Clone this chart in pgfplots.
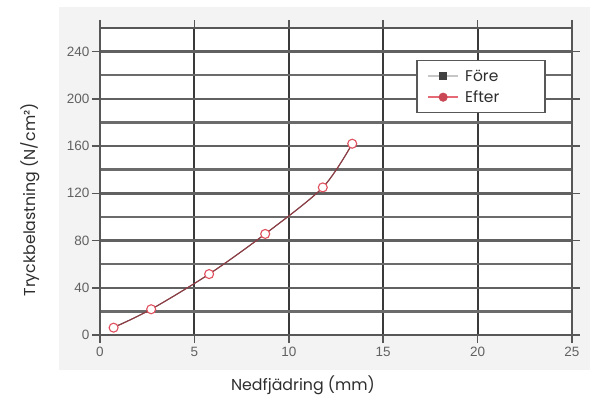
\documentclass[border=0pt]{standalone}
\usepackage{pgfplots}
\pgfplotsset{compat=1.18}
\usepackage{fontspec}
\setmainfont{Liberation Sans}
\newfontfamily\pop{Poppins}

\definecolor{panel}{HTML}{F3F3F3}
\definecolor{gridc}{HTML}{3A3A3A}
\definecolor{efter}{HTML}{E0505E}

\begin{document}
\begin{tikzpicture}
\path[use as bounding box] (-100pt,-78pt) rectangle (495pt,335pt);
\fill[panel] (-41pt,-35pt) rectangle (490pt,328pt);
\begin{axis}[
    at={(0pt,0pt)}, anchor=south west,
    scale only axis,
    width=472pt, height=307pt,
    xmin=0, xmax=25, ymin=0, ymax=260,
    xtick={0,5,...,25},
    ytick={0,40,...,240},
    minor ytick={20,60,...,260},
    grid=both,
    major x grid style={gridc, line width=2pt},
    major y grid style={gridc!80, line width=2.4pt},
    minor y grid style={gridc!75, line width=2.4pt},
    axis background/.style={fill=white},
    axis line style={gridc!85, line width=2pt},
    tick align=outside,
    major tick length=8pt,
    minor tick length=0pt,
    tick style={gridc!85, line width=1.5pt},
    ticklabel style={font=\fontsize{13.5}{15}\selectfont, text=black!62},
    /pgf/number format/assume math mode=true,
    xticklabel style={yshift=-1pt},
    yticklabel style={xshift=1pt},
    xlabel={Nedfjädring (mm)},
    ylabel={Tryckbelastning (N/cm²)},
    label style={font=\pop\fontsize{15.8}{18}\selectfont, text=black!82},
    xlabel style={at={(axis description cs:0.43,-0.163)}, anchor=center},
    ylabel style={at={(axis description cs:-0.148,0.44)}, anchor=center},
    legend style={at={(axis cs:16.75,233)}, anchor=north west,
        draw=gridc!85, line width=1.6pt, fill=white,
        font=\pop\fontsize{15.5}{18}\selectfont, text=black!82,
        inner xsep=2pt, inner ysep=5pt,
        nodes={inner sep=2pt, minimum height=21pt},
        /tikz/every even column/.append style={text width=76pt}},
    legend cell align=left,
    legend image code/.code={
        \path (0pt,0pt) (42pt,0pt);
        \draw[mark repeat=2, mark phase=2, #1] plot coordinates {(8pt,0pt) (23pt,0pt) (38pt,0pt)};
    },
]
\addplot[black!70, line width=1pt, smooth, mark=square*, mark size=2.5pt,
    mark options={black!80, solid},
    forget plot]
    coordinates {(0.72,6.5) (2.71,21.8) (5.78,51.6) (8.75,85.6) (11.8,125) (13.36,162)};
\addlegendimage{gray!45, line width=2.2pt, mark=square*, mark size=3pt, mark options={black!75}}
\addlegendentry{Före}
\addplot[efter!70!black, line width=1.1pt, smooth, opacity=0.85, mark=*, mark size=4.5pt,
    mark options={efter, fill=white, line width=1.1pt, opacity=1},
    forget plot]
    coordinates {(0.72,6.2) (2.71,21.8) (5.78,51.6) (8.75,85.6) (11.8,125) (13.36,162)};
\addlegendimage{efter!85, line width=2pt, mark=*, mark size=3.5pt, mark options={efter!90!black}}
\addlegendentry{Efter}
\end{axis}
\end{tikzpicture}
\end{document}
